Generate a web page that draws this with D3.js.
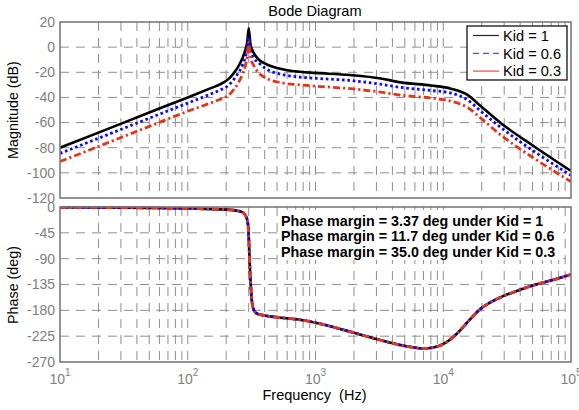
<!DOCTYPE html>
<html>
<head>
<meta charset="utf-8">
<script src="https://cdn.jsdelivr.net/npm/d3@7"></script>
<style>
  html, body { margin: 0; padding: 0; background: #fff; }
  svg { display: block; font-family: "Liberation Sans", Arial, sans-serif; }
</style>
</head>
<body>
<svg id="chart" width="579" height="410"></svg>
<script>
// ---------------- DATA ----------------
const magFreq = [10, 20, 50, 100, 150, 180, 200, 215, 230, 245, 256, 270, 283, 292, 300, 310, 330, 360, 400, 575, 750, 1000, 1860, 3240, 4640, 8000, 11500, 15500, 19700, 28300, 51500, 100000];
const magKid1  = [-80, -68, -52, -40, -32.8, -29.5, -26.8, -24, -20.5, -16.5, -13, -8, -2, 4, 15, 2, -5, -10, -13, -18, -19.6, -20.5, -22.2, -24.9, -28, -30.5, -33, -38, -47, -60.5, -79, -98.5];
const magKid06 = [-84.5, -72.5, -56.5, -44.5, -37.5, -34, -31.8, -29, -25.5, -21.5, -18.5, -13.5, -7.5, -1.5, 8, -3, -9, -12.5, -16.5, -22.2, -23.8, -24.8, -26.5, -29.5, -32, -34.5, -36.5, -42, -51, -64, -83, -102];
const magKid03 = [-91, -79, -63, -51, -44.5, -41.5, -39.5, -37, -33.5, -29.5, -26, -21, -14.5, -7, 4, -8, -15, -20.5, -24, -28.8, -30, -31, -33, -35.8, -38.2, -40.5, -43, -48, -56.5, -70, -88.5, -107];

const phaseFreq = [10, 50, 100, 200, 250, 275, 288, 296, 300, 305, 312, 318, 325, 330, 350, 400, 500, 730, 1000, 2000, 3000, 5000, 7000, 9000, 11000, 13000, 16000, 19700, 23000, 28300, 38000, 51500, 74000, 100000];
const phaseKid1  = [-0.5, -1.5, -2.5, -4.5, -7, -11, -18, -30, -50, -95, -140, -165, -176, -180, -186, -189, -192, -196, -201.5, -219, -230, -242, -246.5, -243, -233, -219, -197, -177, -167, -157, -146, -136, -126.5, -117.5];
const phaseKid06 = [-0.5, -1.5, -2.5, -4.5, -7, -11, -18, -30, -50, -95, -140, -165, -176, -180, -186, -189, -192, -196, -201.5, -219, -230, -242, -246.5, -243, -233, -219, -197, -177, -167, -157, -146, -136, -126.5, -117.5];
const phaseKid03 = [-0.5, -1.5, -2.5, -4.5, -7, -11, -18, -30, -50, -95, -140, -165, -176, -180, -186, -189, -192, -196, -201.5, -219, -230, -242, -246.5, -243, -233, -219, -197, -177, -167, -157, -146, -136, -126.5, -117.5];

const seriesNames = ["Kid = 1", "Kid = 0.6", "Kid = 0.3"];
const magTicks = [20, 0, -20, -40, -60, -80, -100, -120];
const phaseTicks = [0, -45, -90, -135, -180, -225, -270];
const xMajor = [1, 2, 3, 4, 5]; // exponents of 10
const annotations = [
  "Phase margin = 3.37 deg under Kid = 1",
  "Phase margin = 11.7 deg under Kid = 0.6",
  "Phase margin = 35.0 deg under Kid = 0.3"
];

// ---------------- LAYOUT ----------------
const svg = d3.select("#chart");
const L = 60, R = 571;
const magTop = 22, magBot = 198, phTop = 207, phBot = 362;
const axisColor = "#7a7a7a", gridColor = "#8e8e8e", tickText = "#7f7f7f";

const x = d3.scaleLog().domain([10, 1e5]).range([L, R]);
const yMag = d3.scaleLinear().domain([-120, 20]).range([magBot, magTop]);
const yPh = d3.scaleLinear().domain([-270, 0]).range([phBot, phTop]);

const styles = [
  { color: "#000000", dash: null, width: 2.6 },
  { color: "#0a0aff", dash: "2.6,2.8", width: 2.8 },
  { color: "#e2361a", dash: "7,3,2.2,3", width: 2.8 }
];

const xGridVals = [];
for (let e = 1; e < 5; e++) for (let m = 1; m <= 9; m++) xGridVals.push(m * Math.pow(10, e));

function panel(top, bot, yScale, yTicks, id) {
  const g = svg.append("g");
  g.append("rect").attr("x", L).attr("y", top).attr("width", R - L).attr("height", bot - top).attr("fill", "#fff");
  g.selectAll(".vg").data(xGridVals.filter(v => v > 10 && v < 1e5)).enter().append("line")
    .attr("x1", d => x(d)).attr("x2", d => x(d)).attr("y1", top).attr("y2", bot)
    .attr("stroke", gridColor).attr("stroke-width", 1).attr("stroke-dasharray", "9,7");
  g.selectAll(".hg").data(yTicks.slice(1, -1)).enter().append("line")
    .attr("x1", L).attr("x2", R).attr("y1", d => yScale(d)).attr("y2", d => yScale(d))
    .attr("stroke", gridColor).attr("stroke-width", 1).attr("stroke-dasharray", "9,7");
  svg.append("clipPath").attr("id", id).append("rect")
    .attr("x", L).attr("y", top - 1).attr("width", R - L).attr("height", bot - top + 2);
  g.selectAll(".yt").data(yTicks).enter().append("text")
    .attr("x", 55).attr("y", d => yScale(d)).attr("dy", "0.35em")
    .attr("text-anchor", "end").attr("font-size", 14).attr("fill", tickText)
    .text(d => d);
  return g;
}

panel(magTop, magBot, yMag, magTicks, "clipMag");
panel(phTop, phBot, yPh, phaseTicks, "clipPh");

const magLine = d3.line().x(d => x(d[0])).y(d => yMag(d[1])).curve(d3.curveMonotoneX);
const phLine = d3.line().x(d => x(d[0])).y(d => yPh(d[1])).curve(d3.curveMonotoneX);

const magSeries = [magKid1, magKid06, magKid03];
const phSeries = [phaseKid1, phaseKid06, phaseKid03];

const curvesMag = svg.append("g").attr("clip-path", "url(#clipMag)");
magSeries.forEach((s, i) => {
  curvesMag.append("path").datum(magFreq.map((f, j) => [f, s[j]]))
    .attr("d", magLine).attr("fill", "none")
    .attr("stroke", styles[i].color).attr("stroke-width", styles[i].width)
    .attr("stroke-dasharray", styles[i].dash);
});
const curvesPh = svg.append("g").attr("clip-path", "url(#clipPh)");
phSeries.forEach((s, i) => {
  curvesPh.append("path").datum(phaseFreq.map((f, j) => [f, s[j]]))
    .attr("d", phLine).attr("fill", "none")
    .attr("stroke", styles[i].color).attr("stroke-width", styles[i].width)
    .attr("stroke-dasharray", styles[i].dash);
});

[[magTop, magBot], [phTop, phBot]].forEach(([t, b]) => {
  svg.append("rect").attr("x", L).attr("y", t).attr("width", R - L).attr("height", b - t)
    .attr("fill", "none").attr("stroke", axisColor).attr("stroke-width", 1.6);
});

// annotation
const ann = svg.append("g");
ann.append("rect").attr("x", 279).attr("y", 210).attr("width", 284).attr("height", 50).attr("fill", "#fff");
ann.selectAll("text").data(annotations).enter().append("text")
  .attr("x", 281).attr("y", (d, i) => 225.5 + i * 15.8)
  .attr("font-size", 14.3).attr("font-weight", "bold").attr("fill", "#000")
  .text(d => d);

// x tick labels
const xt = svg.append("g");
xMajor.forEach(e => {
  const t = xt.append("text").attr("x", x(Math.pow(10, e))).attr("y", 384)
    .attr("text-anchor", "middle").attr("font-size", 14).attr("fill", tickText);
  t.append("tspan").text("10");
  t.append("tspan").attr("font-size", 10).attr("dy", -8).text(e);
});

// legend
const lg = svg.append("g");
lg.append("rect").attr("x", 467).attr("y", 26).attr("width", 100).attr("height", 54)
  .attr("fill", "#fff").attr("stroke", "#111").attr("stroke-width", 1.3);
const legStyles = [
  { color: "#222", dash: null, width: 1.2 },
  { color: "#4a4aff", dash: "6,4", width: 1.3 },
  { color: "#ef7a62", dash: null, width: 1.6 }
];
seriesNames.forEach((n, i) => {
  const cy = 35.5 + i * 17.8;
  lg.append("line").attr("x1", 473).attr("x2", 499).attr("y1", cy).attr("y2", cy)
    .attr("stroke", legStyles[i].color).attr("stroke-width", legStyles[i].width)
    .attr("stroke-dasharray", legStyles[i].dash);
  lg.append("text").attr("x", 503).attr("y", cy).attr("dy", "0.36em")
    .attr("font-size", 14.6).attr("fill", "#000").text(n);
});

// titles
svg.append("text").attr("x", 315).attr("y", 15.5).attr("text-anchor", "middle")
  .attr("font-size", 14.6).attr("fill", "#000").text("Bode Diagram");
svg.append("text").attr("transform", "translate(18,110) rotate(-90)").attr("text-anchor", "middle")
  .attr("font-size", 14.3).attr("fill", "#000").text("Magnitude (dB)");
svg.append("text").attr("transform", "translate(18,285) rotate(-90)").attr("text-anchor", "middle")
  .attr("font-size", 14.3).attr("fill", "#000").text("Phase (deg)");
svg.append("text").attr("x", 314.5).attr("y", 400).attr("text-anchor", "middle")
  .style("white-space", "pre").attr("font-size", 14.5).attr("fill", "#000").text("Frequency  (Hz)");
</script>
</body>
</html>
